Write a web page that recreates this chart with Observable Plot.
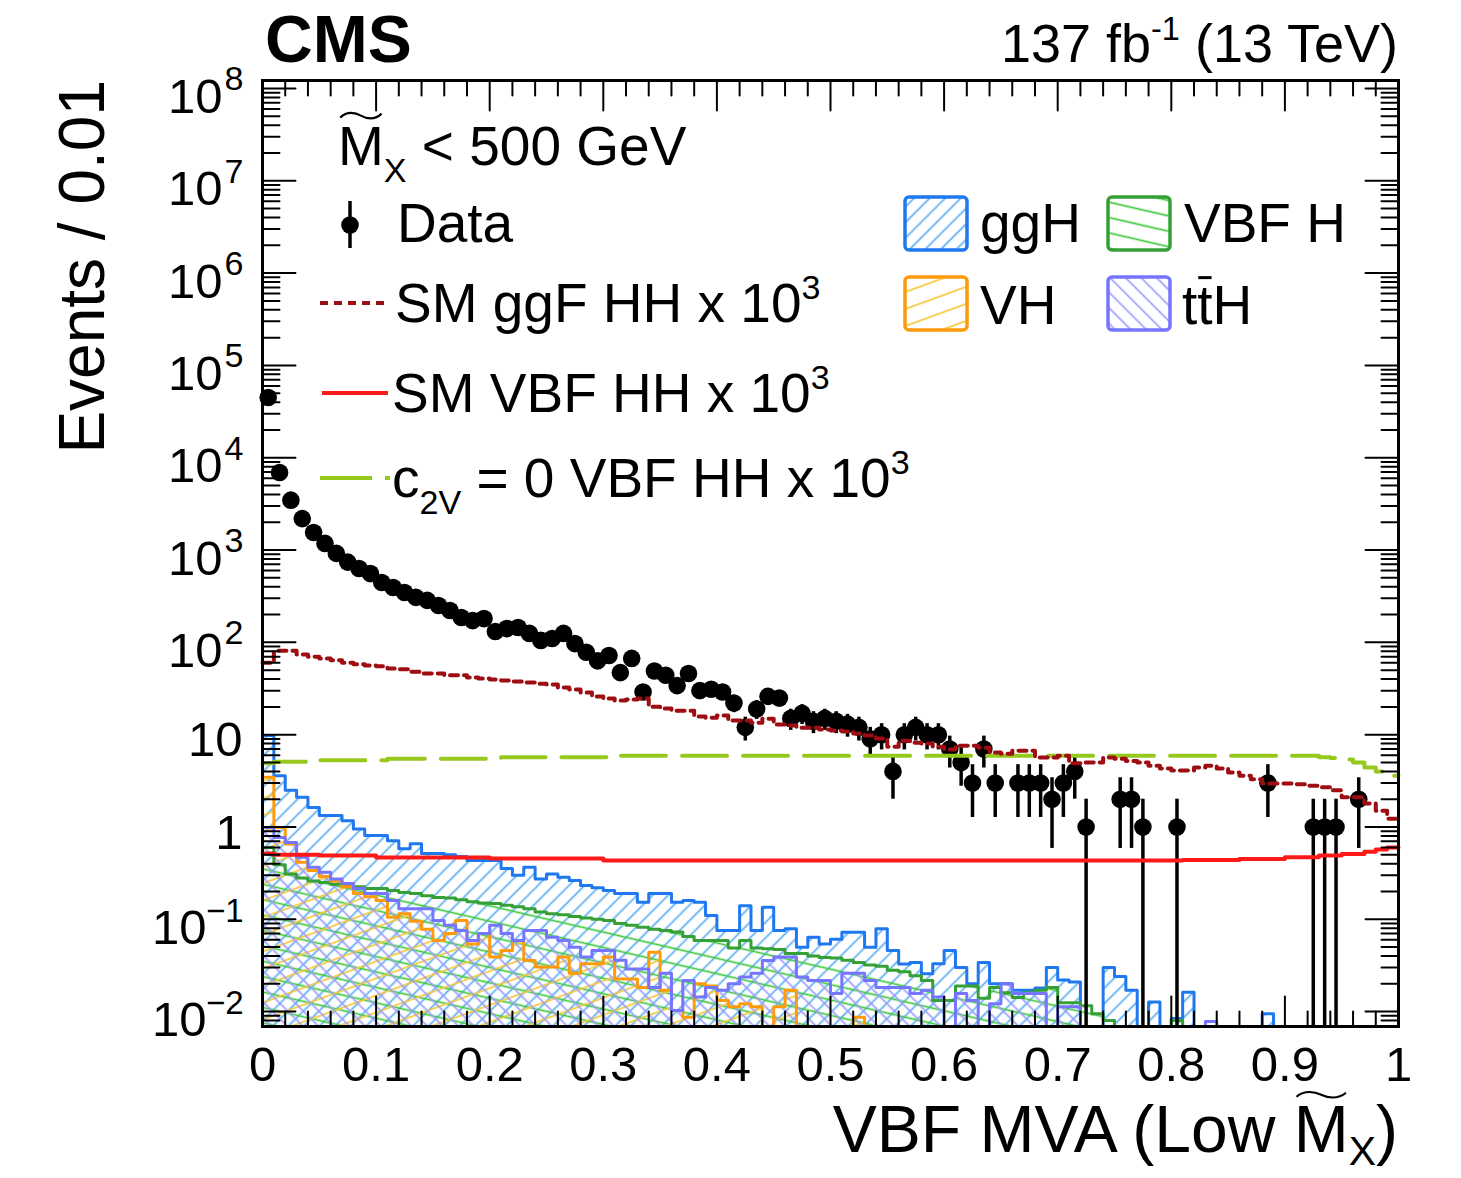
<!DOCTYPE html>
<html>
<head>
<meta charset="utf-8">
<script src="https://cdn.jsdelivr.net/npm/d3@7"></script>
<script src="https://cdn.jsdelivr.net/npm/@observablehq/plot@0.6"></script>
<style>
  html, body { margin: 0; padding: 0; background: #fff; }
  #chart svg { display: block; }
</style>
</head>
<body>
<div id="chart"></div>
<script>
// ---------------- data (100 bins of width 0.01) ----------------
const BIN = 0.01;

const dataCounts = [
  45000, 6920, 3470, 2190, 1550, 1180, 920, 740, 630, 556,
  445, 393, 347, 307, 285, 251, 221, 186, 172, 181,
  131, 141, 145, 125, 105, 110, 125, 97, 78, 63,
  72, 47, 67, 29, 49, 44, 34, 46, 30, 31,
  29, 22, 12, 19, 26, 25, 15, 17, 14, 15,
  14, 13, 12, 9, 10, 4, 10, 12, 10, 10,
  7, 5, 3, 7, 3, 0, 3, 3, 3, 2,
  3, 4, 1, 0, 0, 2, 2, 1, 0, 0,
  1, 0, 0, 0, 0, 0, 0, 0, 3, 0,
  0, 0, 1, 1, 1, 0, 2, 0, 0, 0
];

const smGgfHH = [
  60, 81, 81, 74, 70, 67, 64, 60, 58, 56,
  55, 52, 51, 48, 46, 46, 44, 44, 41.6, 40.6,
  39.5, 38.6, 37.6, 36.7, 35.7, 34.9, 32.4, 30.9, 28.6, 25.9,
  24.6, 23.4, 24, 24.6, 20.1, 19.2, 18.2, 18.2, 15.7, 15.3,
  16.1, 14.2, 14.2, 13.5, 14.9, 12.9, 12.6, 11.9, 11.9, 11.4,
  11.1, 10.8, 10.3, 9.8, 9.1, 7.4, 8.6, 8.2, 8.0, 7.4,
  6.9, 7.6, 7.6, 7.2, 6.4, 6.2, 6.7, 6.7, 5.65, 5.65,
  5.9, 4.9, 5.0, 5.0, 5.65, 5.5, 5.2, 5.0, 4.6, 4.3,
  4.1, 4.1, 4.4, 4.6, 4.3, 3.9, 3.6, 3.3, 2.95, 2.95,
  2.95, 2.9, 2.8, 2.7, 2.5, 2.1, 2.1, 1.8, 1.5, 1.23
];

const smVbfHH = [
  0.515, 0.5, 0.5, 0.5, 0.5, 0.49, 0.49, 0.49, 0.49, 0.49,
  0.466, 0.466, 0.466, 0.466, 0.466, 0.466, 0.466, 0.466, 0.466, 0.466,
  0.455, 0.455, 0.455, 0.455, 0.455, 0.455, 0.455, 0.455, 0.455, 0.455,
  0.433, 0.433, 0.433, 0.433, 0.433, 0.433, 0.433, 0.433, 0.433, 0.433,
  0.433, 0.433, 0.433, 0.433, 0.433, 0.433, 0.433, 0.433, 0.433, 0.433,
  0.433, 0.433, 0.433, 0.433, 0.433, 0.433, 0.433, 0.433, 0.433, 0.433,
  0.433, 0.433, 0.433, 0.433, 0.433, 0.433, 0.433, 0.433, 0.433, 0.433,
  0.433, 0.433, 0.433, 0.433, 0.433, 0.433, 0.433, 0.433, 0.433, 0.433,
  0.433, 0.44, 0.44, 0.44, 0.44, 0.44, 0.45, 0.45, 0.45, 0.45,
  0.47, 0.47, 0.47, 0.49, 0.49, 0.51, 0.51, 0.54, 0.57, 0.6
];

const c2v0VbfHH = [
  4.9, 5.1, 5.1, 5.1, 5.3, 5.3, 5.3, 5.3, 5.3, 5.3,
  5.3, 5.5, 5.5, 5.5, 5.5, 5.5, 5.5, 5.5, 5.5, 5.5,
  5.5, 5.7, 5.7, 5.7, 5.7, 5.7, 5.7, 5.7, 5.7, 5.7,
  5.7, 5.9, 5.9, 5.9, 5.9, 5.9, 5.9, 5.9, 5.9, 5.9,
  5.9, 5.9, 5.9, 5.9, 5.9, 5.9, 5.9, 5.9, 5.9, 5.9,
  5.9, 5.9, 5.9, 5.9, 5.9, 5.9, 5.9, 5.9, 5.9, 5.9,
  5.9, 5.9, 5.9, 5.9, 5.9, 5.9, 5.9, 5.9, 5.9, 5.9,
  5.9, 5.9, 5.9, 5.9, 5.9, 5.9, 5.9, 5.9, 5.9, 5.9,
  5.9, 5.9, 5.9, 5.9, 5.9, 5.9, 5.9, 5.9, 5.9, 5.9,
  5.9, 5.9, 5.9, 5.7, 5.6, 5.4, 5.0, 4.4, 4.0, 3.6
];

const ggH = [
  9.8, 3.6, 2.5, 2.1, 1.63, 1.33, 1.33, 1.17, 0.95, 0.81,
  0.81, 0.71, 0.58, 0.66, 0.515, 0.515, 0.5, 0.48, 0.433, 0.433,
  0.433, 0.355, 0.30, 0.366, 0.274, 0.31, 0.285, 0.263, 0.232, 0.22,
  0.205, 0.19, 0.19, 0.153, 0.19, 0.19, 0.153, 0.16, 0.153, 0.11,
  0.0755, 0.0755, 0.14, 0.0755, 0.135, 0.0755, 0.079, 0.0497, 0.064, 0.054,
  0.061, 0.0725, 0.0725, 0.0497, 0.079, 0.0458, 0.0329, 0.034, 0.0257, 0.033,
  0.046, 0.030, 0.02, 0.034, 0.02, 0.02, 0.017, 0.017, 0.018, 0.030,
  0.022, 0.021, 0, 0, 0.030, 0.024, 0.017, 0, 0.0127, 0,
  0.0084, 0.0162, 0, 0, 0, 0, 0, 0, 0.0095, 0,
  0, 0, 0, 0, 0, 0, 0, 0, 0, 0
];

const vbfH = [
  0.6, 0.39, 0.31, 0.28, 0.26, 0.25, 0.24, 0.23, 0.225, 0.216,
  0.216, 0.205, 0.195, 0.19, 0.18, 0.172, 0.17, 0.163, 0.155, 0.15,
  0.148, 0.142, 0.137, 0.13, 0.12, 0.115, 0.112, 0.107, 0.103, 0.1,
  0.097, 0.09, 0.086, 0.082, 0.078, 0.0755, 0.073, 0.065, 0.059, 0.059,
  0.059, 0.049, 0.059, 0.049, 0.048, 0.047, 0.0425, 0.0425, 0.04, 0.0385,
  0.038, 0.036, 0.034, 0.032, 0.031, 0.028, 0.027, 0.0245, 0.0217, 0.0132,
  0.0132, 0.019, 0.019, 0.014, 0.0182, 0.016, 0.0142, 0.016, 0.017, 0.0182,
  0.0125, 0.0125, 0.0116, 0.0095, 0.008, 0, 0, 0, 0, 0,
  0.008, 0, 0, 0, 0, 0, 0, 0, 0, 0,
  0, 0, 0, 0, 0, 0, 0, 0, 0, 0
];

const vH = [
  3.45, 0.99, 0.656, 0.415, 0.337, 0.29, 0.26, 0.225, 0.19, 0.175,
  0.16, 0.105, 0.115, 0.095, 0.078, 0.059, 0.07, 0.097, 0.054, 0.07,
  0.039, 0.0458, 0.059, 0.0357, 0.0305, 0.0305, 0.039, 0.026, 0.033, 0.033,
  0.039, 0.0226, 0.0226, 0.0183, 0.044, 0.017, 0.0103, 0.0087, 0.02, 0.019,
  0.0132, 0.0113, 0.0122, 0.0113, 0, 0.0113, 0.017, 0, 0, 0,
  0, 0, 0.0087, 0, 0, 0, 0, 0, 0, 0,
  0, 0, 0, 0, 0, 0, 0, 0, 0, 0,
  0, 0, 0, 0, 0, 0, 0, 0, 0, 0,
  0, 0, 0, 0, 0, 0, 0, 0, 0, 0,
  0, 0, 0, 0, 0, 0, 0, 0, 0, 0
];

const ttH = [
  0.99, 0.77, 0.68, 0.47, 0.366, 0.323, 0.274, 0.244, 0.215, 0.19,
  0.19, 0.16, 0.13, 0.13, 0.13, 0.097, 0.086, 0.0755, 0.059, 0.07,
  0.086, 0.07, 0.059, 0.0755, 0.0755, 0.064, 0.059, 0.0497, 0.039, 0.046,
  0.046, 0.036, 0.029, 0.029, 0.0183, 0.026, 0.0103, 0.0217, 0.0144, 0.0183,
  0.017, 0.02, 0.0237, 0.026, 0.0357, 0.039, 0.039, 0.0237, 0.0217, 0.0217,
  0.0157, 0.026, 0.026, 0.0217, 0.0183, 0.0183, 0.0183, 0.0157, 0.017, 0.0144,
  0, 0.0157, 0.0132, 0, 0.0122, 0.02, 0.0157, 0.0157, 0.0157, 0,
  0.0113, 0.0113, 0, 0, 0, 0, 0, 0, 0, 0,
  0, 0, 0, 0.0078, 0, 0, 0, 0, 0, 0,
  0, 0, 0, 0, 0, 0, 0, 0, 0, 0
];

const xTickValues = [0, 0.1, 0.2, 0.3, 0.4, 0.5, 0.6, 0.7, 0.8, 0.9, 1];
const xTickLabels = ["0", "0.1", "0.2", "0.3", "0.4", "0.5", "0.6", "0.7", "0.8", "0.9", "1"];
const yTickValues = [1e-2, 1e-1, 1, 10, 1e2, 1e3, 1e4, 1e5, 1e6, 1e7, 1e8];
const yTickBase = ["10", "10", "1", "10", "10", "10", "10", "10", "10", "10", "10"];
const yTickSup  = ["\u22122", "\u22121", "", "", "2", "3", "4", "5", "6", "7", "8"];

// ---------------- layout ----------------
const W = 1461, H = 1178;
const FL = 262, FR = 1398, FT = 80, FB = 1026;
const YMIN = 0.0069, YMAX = 1.22e8;
const FONT = "'Liberation Sans', Arial, Helvetica, sans-serif";

const COL = {
  ggH: "#1f78f0", ggHhatch: "#5aaef2",
  vbfH: "#35a035", vbfHhatch: "#3cc83c",
  vH: "#ff9a0a", vHhatch: "#f7c838",
  ttH: "#7575ff", ttHhatch: "#9c9cff",
  ggf: "#9e0d12", vbf: "#ff1a1a", c2v: "#96c81e"
};

function steps(values) {
  const pts = [];
  values.forEach((v, i) => {
    const y = v > YMIN ? v : YMIN;
    pts.push({x: i * BIN, y}, {x: (i + 1) * BIN, y});
  });
  return pts;
}

const dataPts = dataCounts
  .map((n, i) => ({x: (i + 0.5) * BIN, n, lo: Math.max(n - Math.sqrt(n), YMIN), hi: n + Math.sqrt(n)}))
  .filter(d => d.n > 0);

const xMinor = d3.range(0, 51).map(i => i * 0.02).filter(v => Math.abs(v * 10 - Math.round(v * 10)) > 1e-6);
const yMinor = [];
for (let e = -3; e <= 8; e++) for (let m = 2; m <= 9; m++) {
  const v = m * Math.pow(10, e);
  if (v > YMIN && v < YMAX) yMinor.push(v);
}

const labelRows = yTickValues.map((v, i) => ({v, base: yTickBase[i], sup: yTickSup[i]}));
const labPlain = labelRows.filter(d => d.sup === "");
const labPos = labelRows.filter(d => d.sup !== "" && !d.sup.startsWith("\u2212"));
const labNeg = labelRows.filter(d => d.sup.startsWith("\u2212"));

const histo = [
  {vals: ggH, fill: "url(#hatch-ggH)", stroke: COL.ggH},
  {vals: vbfH, fill: "url(#hatch-vbfH)", stroke: COL.vbfH},
  {vals: vH, fill: "url(#hatch-vH)", stroke: COL.vH},
  {vals: ttH, fill: "url(#hatch-ttH)", stroke: COL.ttH}
];

// plain straight tick line (no arrow head)
const tickShape = {draw(context, l) { context.moveTo(0, 0); context.lineTo(0, -l); }};
const tick = {anchor: "start", shape: tickShape, stroke: "black", strokeWidth: 2};

const chart = Plot.plot({
  width: W, height: H,
  marginLeft: FL, marginRight: W - FR, marginTop: FT, marginBottom: H - FB,
  style: {fontFamily: FONT, background: "white", overflow: "visible"},
  x: {domain: [0, 1], axis: null},
  y: {type: "log", domain: [YMIN, YMAX], axis: null},
  marks: [
    ...histo.map(h => Plot.areaY(steps(h.vals), {x: "x", y1: () => YMIN, y2: "y", fill: h.fill})),
    ...histo.map(h => Plot.line(steps(h.vals), {x: "x", y: "y", stroke: h.stroke, strokeWidth: 3})),
    Plot.ruleX(dataPts, {x: "x", y1: "lo", y2: "hi", stroke: "black", strokeWidth: 3.5}),
    Plot.dot(dataPts, {x: "x", y: "n", r: 8.8, fill: "black", stroke: "none"}),
    Plot.line(steps(smVbfHH), {x: "x", y: "y", stroke: COL.vbf, strokeWidth: 4}),
    Plot.line(steps(c2v0VbfHH), {x: "x", y: "y", stroke: COL.c2v, strokeWidth: 4, strokeDasharray: "45,16"}),
    Plot.line(steps(smGgfHH), {x: "x", y: "y", stroke: COL.ggf, strokeWidth: 4, strokeDasharray: "8,6"}),
    Plot.frame({stroke: "black", strokeWidth: 3}),
    // ROOT-style inward ticks on all four sides
    Plot.vector(xTickValues, {x: d => d, frameAnchor: "bottom", rotate: 0, length: 30, ...tick}),
    Plot.vector(xMinor, {x: d => d, frameAnchor: "bottom", rotate: 0, length: 15, ...tick}),
    Plot.vector(xTickValues, {x: d => d, frameAnchor: "top", rotate: 180, length: 30, ...tick}),
    Plot.vector(xMinor, {x: d => d, frameAnchor: "top", rotate: 180, length: 15, ...tick}),
    Plot.vector(yTickValues, {y: d => d, frameAnchor: "left", rotate: 90, length: 33, ...tick}),
    Plot.vector(yMinor, {y: d => d, frameAnchor: "left", rotate: 90, length: 17, ...tick}),
    Plot.vector(yTickValues, {y: d => d, frameAnchor: "right", rotate: -90, length: 33, ...tick}),
    Plot.vector(yMinor, {y: d => d, frameAnchor: "right", rotate: -90, length: 17, ...tick}),
    // tick labels
    Plot.text(xTickValues, {x: d => d, text: (d, i) => xTickLabels[i], frameAnchor: "bottom", lineAnchor: "middle", dy: 39, fontSize: 49, fill: "black"}),
    Plot.text(labPlain, {y: "v", text: "base", frameAnchor: "left", textAnchor: "end", lineAnchor: "middle", dx: -20, dy: 6, fontSize: 49, fill: "black"}),
    Plot.text(labPos, {y: "v", text: "base", frameAnchor: "left", textAnchor: "end", lineAnchor: "middle", dx: -40, dy: 9, fontSize: 49, fill: "black"}),
    Plot.text(labPos, {y: "v", text: "sup", frameAnchor: "left", textAnchor: "end", lineAnchor: "middle", dx: -19, dy: -9, fontSize: 34, fill: "black"}),
    Plot.text(labNeg, {y: "v", text: "base", frameAnchor: "left", textAnchor: "end", lineAnchor: "middle", dx: -56, dy: 9, fontSize: 49, fill: "black"}),
    Plot.text(labNeg, {y: "v", text: "sup", frameAnchor: "left", textAnchor: "end", lineAnchor: "middle", dx: -19, dy: -8, fontSize: 33, fill: "black"})
  ]
});

document.getElementById("chart").appendChild(chart);

// ---------------- hatch patterns ----------------
const svg = d3.select(chart);
const defs = svg.insert("defs", ":first-child");
function hatch(id, color, angle, spacing, width) {
  const p = defs.append("pattern").attr("id", id)
    .attr("patternUnits", "userSpaceOnUse")
    .attr("width", spacing).attr("height", spacing)
    .attr("patternTransform", `rotate(${angle})`);
  p.append("line").attr("x1", spacing / 2).attr("y1", -1).attr("x2", spacing / 2).attr("y2", spacing + 1)
    .attr("stroke", color).attr("stroke-width", width);
}
hatch("hatch-ggH", COL.ggHhatch, 45, 11, 1.7);
hatch("hatch-vbfH", COL.vbfHhatch, 103, 15, 1.7);
hatch("hatch-vH", COL.vHhatch, 70, 16, 1.7);
hatch("hatch-ttH", COL.ttHhatch, -45, 11, 1.7);

// ---------------- text helpers ----------------
const g = svg.append("g").attr("font-family", FONT);
function rich(x, y, parts, {size = 55, anchor = "start", weight = null} = {}) {
  const t = g.append("text").attr("x", x).attr("y", y).attr("font-size", size)
    .attr("text-anchor", anchor).attr("fill", "black");
  if (weight) t.attr("font-weight", weight);
  let cur = 0;
  for (const p of parts) {
    const s = t.append("tspan").text(p.t);
    const off = p.sup ? -(p.rise ?? 0.42) * size : p.sub ? (p.drop ?? 0.28) * size : 0;
    if (off !== cur) { s.attr("dy", off - cur); cur = off; }
    if (p.sup || p.sub) s.attr("font-size", (p.scale ?? 0.62) * size);
  }
  return t;
}
function tildeOver(t, idx, size) {
  const n = t.node();
  const a = n.getStartPositionOfChar(idx), b = n.getEndPositionOfChar(idx);
  const cx = (a.x + b.x) / 2, w = (b.x - a.x) * 0.9;
  const ty = a.y - 0.716 * size - 10;
  g.append("path")
    .attr("d", `M${cx - w / 2},${ty + 2} C${cx - w / 3},${ty - 5} ${cx - w / 8},${ty - 3} ${cx},${ty} S${cx + w / 3},${ty + 5} ${cx + w / 2},${ty - 2}`)
    .attr("fill", "none").attr("stroke", "black").attr("stroke-width", 2.2);
}
function barOver(t, idx, size) {
  const n = t.node();
  const a = n.getStartPositionOfChar(idx), b = n.getEndPositionOfChar(idx);
  const y = a.y - 0.716 * size - 7;
  g.append("line").attr("x1", a.x + 1).attr("x2", b.x - 1).attr("y1", y).attr("y2", y)
    .attr("stroke", "black").attr("stroke-width", 3);
}

// header
rich(265, 62, [{t: "CMS"}], {size: 66, weight: "bold"});
rich(FR, 62, [{t: "137 fb"}, {t: "-1", sup: true, scale: 0.6, rise: 0.4}, {t: " (13 TeV)"}], {size: 54, anchor: "end"});

// axis titles
g.append("text").attr("transform", `translate(104,${FT}) rotate(-90)`)
  .attr("text-anchor", "end").attr("font-size", 64).attr("fill", "black").text("Events / 0.01");
const xt = rich(FR, 1152, [{t: "VBF MVA (Low M"}, {t: "X", sub: true, drop: 0.2}, {t: ")"}], {size: 66, anchor: "end"});
tildeOver(xt, 13, 66);

// left legend
const mt = rich(338, 165, [{t: "M"}, {t: "X", sub: true, drop: 0.3}, {t: " < 500 GeV"}]);
tildeOver(mt, 0, 55);

g.append("line").attr("x1", 350).attr("x2", 350).attr("y1", 201).attr("y2", 248).attr("stroke", "black").attr("stroke-width", 3.5);
g.append("circle").attr("cx", 350).attr("cy", 225).attr("r", 8.8).attr("fill", "black");
rich(397, 242, [{t: "Data"}]);

g.append("line").attr("x1", 320).attr("x2", 384).attr("y1", 303).attr("y2", 303)
  .attr("stroke", COL.ggf).attr("stroke-width", 4).attr("stroke-dasharray", "8,6");
rich(395, 322, [{t: "SM ggF HH x 10"}, {t: "3", sup: true}]);

g.append("line").attr("x1", 322).attr("x2", 388).attr("y1", 393).attr("y2", 393)
  .attr("stroke", COL.vbf).attr("stroke-width", 4);
rich(392, 412, [{t: "SM VBF HH x 10"}, {t: "3", sup: true}]);

g.append("line").attr("x1", 320).attr("x2", 390).attr("y1", 478).attr("y2", 478)
  .attr("stroke", COL.c2v).attr("stroke-width", 4).attr("stroke-dasharray", "52,13");
rich(392, 497, [{t: "c"}, {t: "2V", sub: true, drop: 0.3}, {t: " = 0 VBF HH x 10"}, {t: "3", sup: true}]);

// right legend (hatched boxes)
function box(x, y, fill, stroke) {
  g.append("rect").attr("x", x).attr("y", y).attr("width", 62).attr("height", 53).attr("rx", 4)
    .attr("fill", "white");
  g.append("rect").attr("x", x).attr("y", y).attr("width", 62).attr("height", 53).attr("rx", 4)
    .attr("fill", fill).attr("stroke", stroke).attr("stroke-width", 3.5);
}
box(905, 197, "url(#hatch-ggH)", COL.ggH);
rich(980, 242, [{t: "ggH"}]);
box(1108, 197, "url(#hatch-vbfH)", COL.vbfH);
rich(1184, 242, [{t: "VBF H"}]);
box(905, 277, "url(#hatch-vH)", COL.vH);
rich(980, 324, [{t: "VH"}]);
box(1108, 277, "url(#hatch-ttH)", COL.ttH);
const tth = rich(1182, 324, [{t: "ttH"}]);
barOver(tth, 1, 55);
</script>
</body>
</html>
